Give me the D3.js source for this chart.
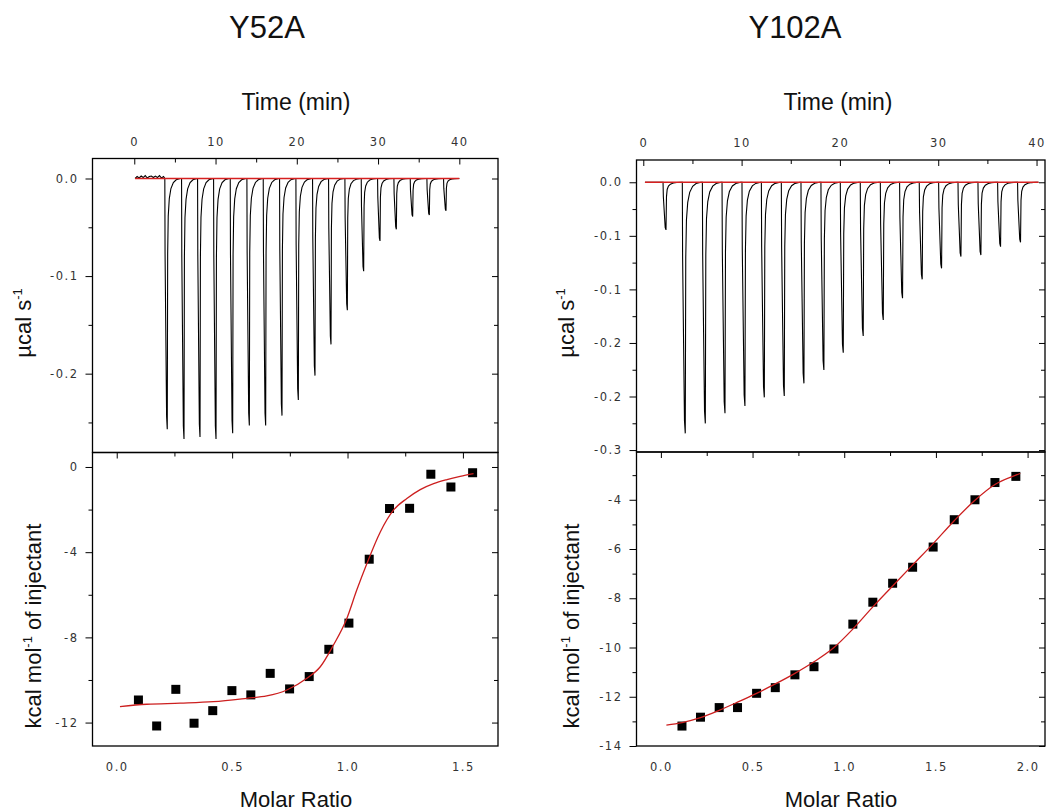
<!DOCTYPE html>
<html>
<head>
<meta charset="utf-8">
<script src="https://cdn.jsdelivr.net/npm/d3@7"></script>
<style>
  body { margin: 0; background: #fff; }
  svg { display: block; }
  .tick text { font-family: "DejaVu Sans", Verdana, sans-serif; font-size: 11.5px; letter-spacing: 1.5px; fill: #333; }
  .tick line { stroke: #000; stroke-width: 1; }
  .lbl { font-family: "Liberation Sans", Arial, sans-serif; fill: #111; }
</style>
</head>
<body>
<svg id="chart" width="1047" height="812"></svg>
<script>
// ---- data ----
var titles = ["Y52A", "Y102A"];

// raw thermograms: injection time (min) and peak depth (ucal/s)
var leftInjTime = [4.06, 6.12, 8.09, 10.06, 12.11, 14.16, 16.17, 18.18, 20.19, 22.24, 24.21, 26.22, 28.23, 30.24, 32.25, 34.26, 36.31, 38.36];
var leftInjPeak = [-0.257, -0.267, -0.265, -0.267, -0.261, -0.253, -0.253, -0.243, -0.227, -0.202, -0.170, -0.135, -0.095, -0.064, -0.052, -0.039, -0.0375, -0.033];
var leftPreTime = [0.35, 0.6, 0.85, 1.1, 1.35, 1.6, 1.85, 2.1, 2.35, 2.6, 2.85, 3.1, 3.35, 3.6];
var leftPreVal = [0.002, 0.0005, 0.0025, 0.001, 0.003, 0.0005, 0.002, 0.0025, 0.001, 0.0025, 0.001, 0.003, 0.0005, 0.002];
var leftRun = [0.1, 40];

var rightInjTime = [2.31, 4.27, 6.31, 8.31, 10.34, 12.31, 14.34, 16.34, 18.37, 20.34, 22.37, 24.41, 26.37, 28.37, 30.34, 32.31, 34.34, 36.34, 38.37];
var rightInjPeak = [-0.0445, -0.2344, -0.2251, -0.2157, -0.2089, -0.2008, -0.1995, -0.1877, -0.1753, -0.1591, -0.1435, -0.1286, -0.1083, -0.0906, -0.0803, -0.0694, -0.0679, -0.0601, -0.0560];
var rightRun = [0.17, 40.2];

// shape of one injection peak (offset in min, fraction of depth)
var peakShapeDt = [-0.3, -0.27, -0.08, 0, 0.05, 0.12, 0.25, 0.45, 0.75, 1.1, 1.6];
var peakShapeFrac = [0, 0.3, 0.95, 1, 0.3, 0.15, 0.08, 0.04, 0.016, 0.005, 0];

// integrated heats
var leftRatio = [0.094, 0.173, 0.256, 0.335, 0.416, 0.499, 0.581, 0.665, 0.749, 0.834, 0.919, 1.006, 1.094, 1.182, 1.269, 1.361, 1.448, 1.542];
var leftHeat = [-10.94, -12.16, -10.44, -12.03, -11.44, -10.5, -10.70, -9.69, -10.42, -9.84, -8.56, -7.33, -4.33, -1.95, -1.94, -0.34, -0.94, -0.27];
var leftFitRatio = [0.014, 0.130, 0.275, 0.419, 0.564, 0.650, 0.737, 0.824, 0.882, 0.939, 0.997, 1.040, 1.084, 1.142, 1.199, 1.257, 1.315, 1.373, 1.431, 1.488, 1.546];
var leftFitHeat = [-11.25, -11.14, -11.09, -11.02, -10.86, -10.75, -10.47, -9.92, -9.38, -8.36, -7.11, -5.78, -4.53, -3.05, -2.03, -1.48, -1.06, -0.78, -0.59, -0.44, -0.31];

var rightRatio = [0.115, 0.216, 0.318, 0.418, 0.522, 0.624, 0.731, 0.835, 0.944, 1.047, 1.156, 1.264, 1.373, 1.485, 1.600, 1.713, 1.822, 1.936];
var rightHeat = [-13.19, -12.83, -12.44, -12.44, -11.86, -11.63, -11.11, -10.78, -10.06, -9.05, -8.16, -7.39, -6.74, -5.92, -4.81, -4.00, -3.30, -3.05];
var rightFitRatio = [0.03, 0.115, 0.216, 0.318, 0.418, 0.522, 0.624, 0.731, 0.835, 0.944, 1.047, 1.156, 1.264, 1.373, 1.485, 1.600, 1.713, 1.822, 1.936, 1.96];
var rightFitHeat = [-13.15, -13.05, -12.85, -12.55, -12.22, -11.86, -11.48, -11.05, -10.58, -10.0, -9.25, -8.35, -7.5, -6.65, -5.78, -4.85, -4.02, -3.38, -3.0, -2.93];

// ticks
var timeTicks = [0, 10, 20, 30, 40];
var timeMinor = [5, 15, 25, 35];
var leftRawTicks = [0, -0.1, -0.2];
var leftRawLabels = ["0.0", "-0.1", "-0.2"];
var leftRawMinor = [-0.05, -0.15, -0.25];
var rightRawTicks = [0, -0.05, -0.1, -0.15, -0.2, -0.25];
var rightRawLabels = ["0.0", "-0.1", "-0.1", "-0.2", "-0.2", "-0.3"];
var rightRawMinor = [-0.025, -0.075, -0.125, -0.175, -0.225];
var leftHeatTicks = [0, -4, -8, -12];
var leftHeatMinor = [-2, -6, -10];
var rightHeatTicks = [-4, -6, -8, -10, -12, -14];
var rightHeatMinor = [-3, -5, -7, -9, -11, -13];
var leftRatioTicks = [0, 0.5, 1.0, 1.5];
var leftRatioMinor = [0.25, 0.75, 1.25];
var rightRatioTicks = [0, 0.5, 1.0, 1.5, 2.0];
var rightRatioMinor = [0.25, 0.75, 1.25, 1.75];

var svg = d3.select("#chart");

function buildTrace(run, times, peaks, preT, preV) {
    var pts = [[run[0], 0]];
    if (preT) {
        preT.forEach(function(t, i) { pts.push([t, preV[i]]); });
    }
    times.forEach(function(t, i) {
        peakShapeDt.forEach(function(dt, k) {
            pts.push([t + dt, peaks[i] * peakShapeFrac[k]]);
        });
    });
    pts.push([run[1], 0]);
    return pts;
}

function addAxis(g, axisFn, scale, vals, size, pad, labels, tx, ty) {
    var ax = axisFn(scale).tickValues(vals).tickSize(size).tickPadding(pad)
        .tickFormat(labels ? function(d, i) { return labels[i]; } : function() { return ""; });
    g.append("g").attr("transform", "translate(" + tx + "," + ty + ")")
        .call(ax)
        .call(function(a) { a.select(".domain").remove(); });
}

function drawSide(s, id) {
    var g = svg.append("g");
    var xT = d3.scaleLinear().domain(s.timeDomain).range([s.x0, s.x1]);
    var yT = d3.scaleLinear().domain(s.rawDomain).range([s.ySplit, s.yTop]);
    var xB = d3.scaleLinear().domain(s.ratioDomain).range([s.x0, s.x1]);
    var yB = d3.scaleLinear().domain(s.heatDomain).range([s.yBot, s.ySplit]);

    var defs = svg.append("defs");
    defs.append("clipPath").attr("id", "ct" + id).append("rect")
        .attr("x", s.x0).attr("y", s.yTop).attr("width", s.x1 - s.x0).attr("height", s.ySplit - s.yTop);
    defs.append("clipPath").attr("id", "cb" + id).append("rect")
        .attr("x", s.x0).attr("y", s.ySplit).attr("width", s.x1 - s.x0).attr("height", s.yBot - s.ySplit);

    // raw trace
    var line = d3.line().x(function(d) { return xT(d[0]); }).y(function(d) { return yT(d[1]); });
    var gt = g.append("g").attr("clip-path", "url(#ct" + id + ")");
    gt.append("path").datum(s.trace)
        .attr("d", line).attr("fill", "none").attr("stroke", "#000").attr("stroke-width", 1.1);
    gt.append("path").datum([[s.run[0], 0], [s.run[1], 0]])
        .attr("d", line).attr("fill", "none").attr("stroke", "#d62020").attr("stroke-width", 1.5);

    // integrated heats
    var gb = g.append("g").attr("clip-path", "url(#cb" + id + ")");
    var fit = d3.line().curve(d3.curveMonotoneX)
        .x(function(d, i) { return xB(s.fitRatio[i]); })
        .y(function(d, i) { return yB(s.fitHeat[i]); });
    gb.selectAll("rect.pt").data(s.ratio).enter().append("rect").attr("class", "pt")
        .attr("x", function(d) { return xB(d) - 4.5; })
        .attr("y", function(d, i) { return yB(s.heat[i]) - 4.5; })
        .attr("width", 9).attr("height", 9).attr("fill", "#000");
    gb.append("path").datum(s.fitRatio)
        .attr("d", fit).attr("fill", "none").attr("stroke", "#cc1f1f").attr("stroke-width", 1.3);

    // axes, top panel
    addAxis(g, d3.axisTop, xT, timeTicks, -6, 13, timeTicks.map(String), 0, s.yTop);
    addAxis(g, d3.axisTop, xT, timeMinor, -4, 0, null, 0, s.yTop);
    addAxis(g, d3.axisLeft, yT, s.rawTicks, 7, 7, s.rawLabels, s.x0, 0);
    addAxis(g, d3.axisLeft, yT, s.rawMinor, 4, 0, null, s.x0, 0);
    addAxis(g, d3.axisRight, yT, s.rawTicks, -6, 0, null, s.x1, 0);
    addAxis(g, d3.axisRight, yT, s.rawMinor, -4, 0, null, s.x1, 0);

    // axes, bottom panel
    addAxis(g, d3.axisTop, xB, s.ratioTicks, -6, 0, null, 0, s.ySplit);
    addAxis(g, d3.axisTop, xB, s.ratioMinor, -4, 0, null, 0, s.ySplit);
    addAxis(g, d3.axisBottom, xB, s.ratioTicks, 0, 17, s.ratioTicks.map(d3.format(".1f")), 0, s.yBot);
    addAxis(g, d3.axisLeft, yB, s.heatTicks, 7, 7, s.heatTicks.map(String), s.x0, 0);
    addAxis(g, d3.axisLeft, yB, s.heatMinor, 4, 0, null, s.x0, 0);
    addAxis(g, d3.axisRight, yB, s.heatTicks, -6, 0, null, s.x1, 0);
    addAxis(g, d3.axisRight, yB, s.heatMinor, -4, 0, null, s.x1, 0);

    // frames
    [[s.yTop, s.ySplit], [s.ySplit, s.yBot]].forEach(function(r) {
        g.append("rect").attr("x", s.x0).attr("y", r[0])
            .attr("width", s.x1 - s.x0).attr("height", r[1] - r[0])
            .attr("fill", "none").attr("stroke", "#000").attr("stroke-width", 1.3);
    });

    // labels
    g.append("text").attr("class", "lbl").attr("x", s.titleX).attr("y", 38)
        .attr("text-anchor", "middle").attr("font-size", 31).text(s.title);
    g.append("text").attr("class", "lbl").attr("x", s.timeX).attr("y", 110)
        .attr("text-anchor", "middle").attr("font-size", 23).text("Time (min)");
    g.append("text").attr("class", "lbl").attr("x", s.ratioX).attr("y", 807)
        .attr("text-anchor", "middle").attr("font-size", 22).text("Molar Ratio");

    var t1 = g.append("text").attr("class", "lbl").attr("font-size", 22).attr("text-anchor", "middle")
        .attr("transform", "translate(" + s.rawLabX + ",323) rotate(-90)");
    t1.append("tspan").text("\u00b5cal s");
    t1.append("tspan").attr("font-size", 13).attr("dy", -9).text("-1");

    var t2 = g.append("text").attr("class", "lbl").attr("font-size", 22).attr("text-anchor", "middle")
        .attr("transform", "translate(" + s.heatLabX + ",626) rotate(-90)");
    t2.append("tspan").text("kcal mol");
    t2.append("tspan").attr("font-size", 13).attr("dy", -9).text("-1");
    t2.append("tspan").attr("dy", 9).text(" of injectant");
}

drawSide({
    title: titles[0], titleX: 267, timeX: 296, ratioX: 296, rawLabX: 31, heatLabX: 41,
    x0: 92.5, x1: 498, yTop: 158.5, ySplit: 452.5, yBot: 746,
    timeDomain: [-5.14, 44.76], rawDomain: [-0.2808, 0.0205],
    ratioDomain: [-0.105, 1.652], heatDomain: [-13.1, 0.68],
    run: leftRun,
    trace: buildTrace(leftRun, leftInjTime, leftInjPeak, leftPreTime, leftPreVal),
    ratio: leftRatio, heat: leftHeat, fitRatio: leftFitRatio, fitHeat: leftFitHeat,
    rawTicks: leftRawTicks, rawLabels: leftRawLabels, rawMinor: leftRawMinor,
    heatTicks: leftHeatTicks, heatMinor: leftHeatMinor,
    ratioTicks: leftRatioTicks, ratioMinor: leftRatioMinor
}, 0);

drawSide({
    title: titles[1], titleX: 795, timeX: 838, ratioX: 841, rawLabX: 574, heatLabX: 579,
    x0: 636.5, x1: 1045, yTop: 160, ySplit: 452, yBot: 746,
    timeDomain: [-0.69, 40.86], rawDomain: [-0.2518, 0.0208],
    ratioDomain: [-0.133, 2.095], heatDomain: [-14, -2.06],
    run: rightRun,
    trace: buildTrace(rightRun, rightInjTime, rightInjPeak),
    ratio: rightRatio, heat: rightHeat, fitRatio: rightFitRatio, fitHeat: rightFitHeat,
    rawTicks: rightRawTicks, rawLabels: rightRawLabels, rawMinor: rightRawMinor,
    heatTicks: rightHeatTicks, heatMinor: rightHeatMinor,
    ratioTicks: rightRatioTicks, ratioMinor: rightRatioMinor
}, 1);
</script>
</body>
</html>
